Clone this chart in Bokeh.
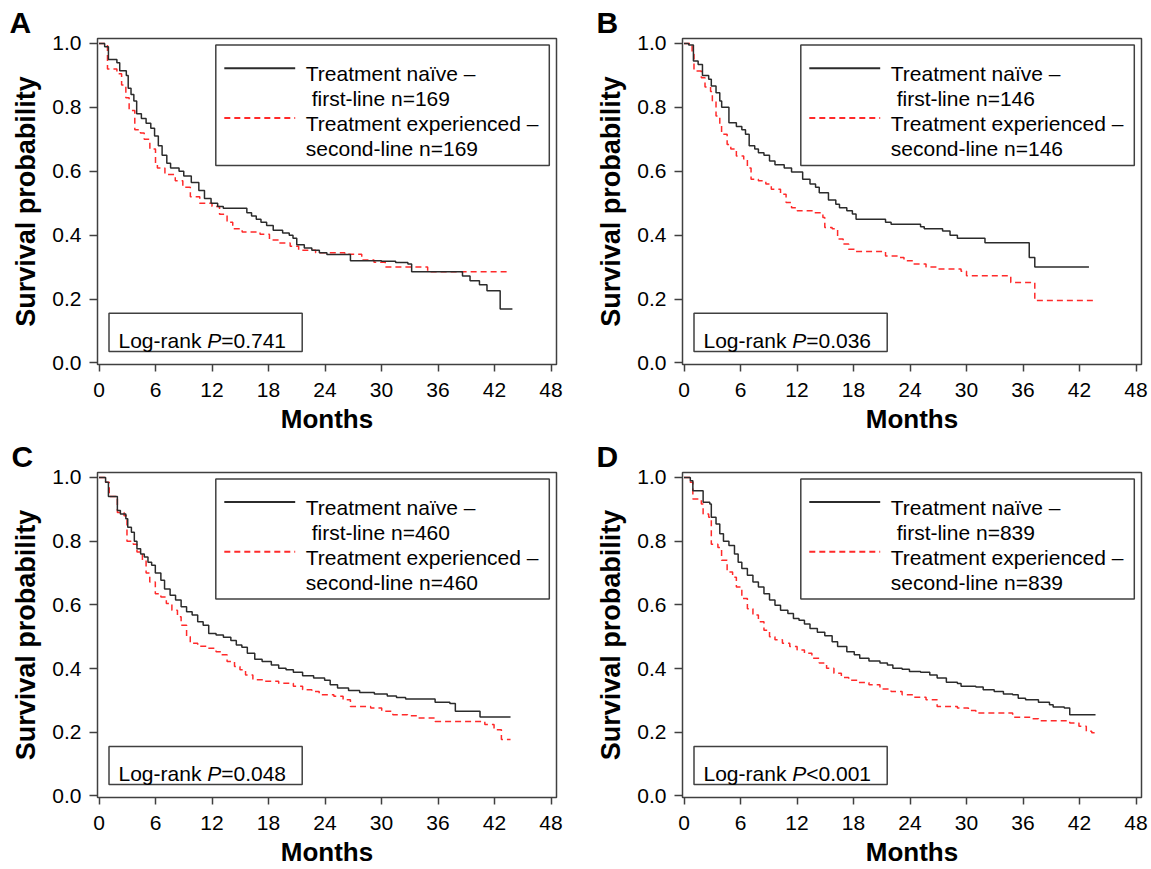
from bokeh.plotting import figure
from bokeh.layouts import gridplot
from bokeh.models import Label, FixedTicker, Range1d, NumeralTickFormatter
from bokeh.embed import file_html
from bokeh.resources import INLINE

# ---------------- data ----------------
x_ticks = [0, 6, 12, 18, 24, 30, 36, 42, 48]
y_ticks = [0.0, 0.2, 0.4, 0.6, 0.8, 1.0]
panel_letters = ["A", "B", "C", "D"]
n_patients = [169, 146, 460, 839]
p_texts = [("=", "0.741"), ("=", "0.036"), ("=", "0.048"), ("<", "0.001")]

# Panel A
a_naive_t = [0, 0.6, 1.0, 1.9, 2.2, 2.9, 3.1, 3.4, 3.7, 4.0, 4.5, 5.0, 5.5, 5.9, 6.3, 6.7, 7.2, 7.6, 8.5, 9.0,
             9.8, 10.6, 11.2, 11.9, 12.6, 13.2, 15.7, 16.2, 16.7, 17.2, 17.8, 18.5, 19.5, 20.2, 20.6, 21.0, 21.8,
             22.6, 23.4, 24.2, 26.7, 30.0, 31.5, 32.8, 33.2, 38.6, 39.4, 40.4, 41.2, 42.6]
a_naive_s = [1.0, 0.99, 0.95, 0.94, 0.915, 0.90, 0.86, 0.84, 0.82, 0.78, 0.765, 0.75, 0.735, 0.71, 0.68, 0.65,
             0.625, 0.61, 0.60, 0.585, 0.565, 0.54, 0.515, 0.50, 0.49, 0.484, 0.47, 0.46, 0.45, 0.44, 0.43, 0.415,
             0.407, 0.40, 0.39, 0.37, 0.36, 0.353, 0.345, 0.339, 0.32, 0.318, 0.314, 0.31, 0.285, 0.272, 0.257,
             0.245, 0.226, 0.169]
a_naive_end = 43.9
a_exp_t = [0, 0.9, 1.9, 2.4, 2.85, 3.2, 3.8, 4.4, 4.8, 5.4, 6.0, 6.2, 7.0, 8.1, 8.9, 9.7, 10.7, 12.0, 12.8, 13.6,
           14.2, 15.2, 17.1, 18.1, 19.1, 20.3, 21.2, 23.0, 26.1, 27.9, 29.2, 30.4, 34.9]
a_exp_s = [1.0, 0.92, 0.905, 0.87, 0.83, 0.79, 0.73, 0.72, 0.70, 0.67, 0.62, 0.61, 0.59, 0.57, 0.55, 0.52, 0.50,
           0.49, 0.465, 0.44, 0.42, 0.41, 0.403, 0.385, 0.375, 0.365, 0.353, 0.345, 0.34, 0.322, 0.315, 0.30, 0.285]
a_exp_end = 43.7

# Panel B
b_naive_t = [0, 0.5, 1.0, 1.5, 1.96, 2.62, 2.9, 3.4, 3.8, 4.0, 4.77, 5.56, 6.14, 6.53, 6.92, 7.51, 7.9, 8.49, 9.08,
             9.66, 10.64, 11.42, 12.6, 13.38, 13.97, 14.36, 15.34, 16.12, 16.51, 17.29, 17.88, 18.27, 21.4, 21.99,
             25.12, 25.51, 27.46, 28.25, 29.03, 31.96, 36.66, 37.25]
b_naive_s = [1.0, 0.995, 0.945, 0.934, 0.90, 0.888, 0.867, 0.846, 0.82, 0.80, 0.752, 0.74, 0.73, 0.716, 0.68, 0.67,
             0.658, 0.65, 0.632, 0.62, 0.61, 0.598, 0.575, 0.56, 0.55, 0.533, 0.51, 0.497, 0.486, 0.476, 0.466, 0.45,
             0.44, 0.434, 0.426, 0.42, 0.413, 0.40, 0.39, 0.376, 0.33, 0.30]
b_naive_end = 43.0
b_exp_t = [0, 0.86, 1.06, 1.84, 2.23, 2.82, 3.01, 3.4, 3.8, 3.99, 4.58, 4.97, 5.56, 6.34, 6.73, 7.12, 7.9, 8.69,
           9.27, 10.25, 10.84, 11.42, 12.01, 13.77, 14.75, 14.95, 15.73, 16.31, 16.9, 17.49, 18.08, 21.4, 22.77,
           23.36, 24.33, 25.7, 26.88, 29.42, 30.0, 34.7, 37.25]
b_exp_s = [1.0, 0.966, 0.914, 0.893, 0.864, 0.85, 0.82, 0.773, 0.747, 0.716, 0.684, 0.67, 0.648, 0.638, 0.61,
           0.575, 0.57, 0.56, 0.544, 0.528, 0.502, 0.486, 0.476, 0.47, 0.455, 0.424, 0.42, 0.388, 0.372, 0.356,
           0.349, 0.335, 0.33, 0.32, 0.31, 0.30, 0.294, 0.287, 0.273, 0.252, 0.195]
b_exp_end = 43.5

# Panel C
c_naive_t = [0, 0.7, 1.0, 1.95, 2.27, 2.85, 3.05, 3.44, 3.75, 4.03, 4.42, 4.81, 5.2, 5.59, 5.98, 6.57, 6.96, 7.55,
             8.13, 8.72, 9.3, 9.89, 10.48, 11.06, 11.65, 12.43, 13.21, 14.0, 14.58, 15.17, 15.75, 16.54, 17.32,
             18.3, 19.08, 19.86, 20.64, 21.62, 22.79, 23.96, 24.55, 25.33, 26.5, 27.68, 29.24, 30.61, 31.59, 32.56,
             35.69, 37.26, 37.84, 40.46]
c_naive_s = [1.0, 0.985, 0.94, 0.896, 0.885, 0.87, 0.844, 0.828, 0.80, 0.776, 0.76, 0.75, 0.734, 0.724, 0.70,
             0.677, 0.65, 0.63, 0.615, 0.594, 0.578, 0.568, 0.547, 0.536, 0.51, 0.505, 0.498, 0.488, 0.474, 0.467,
             0.448, 0.429, 0.422, 0.411, 0.401, 0.396, 0.388, 0.377, 0.37, 0.363, 0.349, 0.339, 0.331, 0.325, 0.32,
             0.314, 0.309, 0.304, 0.294, 0.29, 0.266, 0.248]
c_naive_end = 43.7
c_exp_t = [0, 0.7, 1.09, 1.95, 2.66, 2.97, 3.64, 4.03, 4.61, 5.0, 5.39, 5.98, 6.57, 7.15, 7.74, 8.33, 8.72, 9.3,
           9.69, 10.48, 11.45, 12.43, 13.02, 13.6, 14.39, 14.97, 15.56, 16.34, 17.51, 19.08, 20.64, 21.62, 22.6,
           23.38, 24.94, 25.92, 26.7, 28.85, 30.02, 31.2, 32.76, 33.93, 35.69, 40.97, 41.95, 42.73]
c_exp_s = [1.0, 0.985, 0.94, 0.89, 0.88, 0.80, 0.79, 0.766, 0.74, 0.70, 0.672, 0.635, 0.625, 0.604, 0.583, 0.563,
           0.536, 0.50, 0.479, 0.47, 0.464, 0.453, 0.443, 0.422, 0.406, 0.396, 0.38, 0.365, 0.36, 0.354, 0.344,
           0.333, 0.328, 0.318, 0.313, 0.302, 0.281, 0.276, 0.266, 0.255, 0.252, 0.245, 0.234, 0.224, 0.208, 0.177]
c_exp_end = 43.7

# Panel D
d_naive_t = [0, 0.67, 0.94, 2.03, 2.74, 2.9, 3.4, 3.8, 4.19, 4.77, 5.36, 5.75, 6.14, 6.73, 7.32, 7.9, 8.49, 9.08,
             9.66, 10.25, 11.03, 11.62, 12.21, 12.79, 13.38, 14.16, 14.95, 15.73, 16.31, 17.29, 18.08, 18.66,
             19.64, 20.81, 21.6, 22.18, 23.16, 23.94, 25.12, 26.1, 26.88, 27.86, 29.03, 29.42, 30.99, 31.77, 32.94,
             33.92, 34.9, 35.49, 36.27, 37.64, 38.81, 39.2, 40.38, 40.96]
d_naive_s = [1.0, 0.99, 0.958, 0.922, 0.917, 0.875, 0.854, 0.823, 0.80, 0.786, 0.76, 0.734, 0.714, 0.693, 0.672,
             0.656, 0.635, 0.615, 0.599, 0.583, 0.573, 0.557, 0.552, 0.54, 0.526, 0.514, 0.503, 0.484, 0.469,
             0.453, 0.443, 0.432, 0.424, 0.417, 0.411, 0.401, 0.398, 0.391, 0.388, 0.38, 0.37, 0.357, 0.353,
             0.344, 0.342, 0.333, 0.328, 0.32, 0.318, 0.307, 0.302, 0.294, 0.286, 0.279, 0.276, 0.255]
d_naive_end = 43.7
d_exp_t = [0, 0.67, 0.94, 1.84, 2.03, 2.62, 2.9, 3.6, 3.99, 4.58, 5.16, 5.56, 6.14, 6.73, 7.32, 7.9, 8.49, 9.08,
           9.66, 10.45, 11.23, 12.01, 12.79, 13.58, 14.36, 15.14, 15.92, 16.71, 17.49, 18.47, 19.64, 20.81, 21.99,
           23.16, 24.33, 25.7, 26.88, 29.03, 30.2, 30.99, 34.9, 36.85, 37.64, 40.96, 41.94, 42.72, 43.3]
d_exp_s = [1.0, 0.985, 0.932, 0.917, 0.885, 0.875, 0.79, 0.78, 0.74, 0.703, 0.687, 0.656, 0.62, 0.588, 0.568,
           0.547, 0.52, 0.50, 0.49, 0.479, 0.469, 0.458, 0.448, 0.432, 0.417, 0.401, 0.385, 0.372, 0.363, 0.356,
           0.349, 0.336, 0.328, 0.318, 0.31, 0.302, 0.281, 0.276, 0.268, 0.26, 0.247, 0.242, 0.236, 0.229, 0.219,
           0.203, 0.198]
d_exp_end = 43.7

# ---------------- layout / style ----------------
FONT = "Liberation Sans"
FRAME_COLOR = "#404040"
NAIVE_COLOR = "#2b2b2b"
EXP_COLOR = "#ff2a2a"
FW, FH = 459, 327            # frame size in px
X0, X1 = -0.16, -0.16 + FW / 9.417
Y0, Y1 = -0.005, -0.005 + FH / 320.4
SX = FW / (X1 - X0)
SY = FH / (Y1 - Y0)


def dx(px):
    return X0 + px / SX


def dy(py):
    return Y1 - py / SY


def make_panel(letter, n, ptxt, naive_t, naive_s, naive_end, exp_t, exp_s, exp_end,
               width, height, left, top, letter_offset):
    assert len(naive_t) == len(naive_s) and len(exp_t) == len(exp_s)
    p = figure(width=width, height=height, output_backend="svg", toolbar_location=None,
               x_range=Range1d(X0, X1), y_range=Range1d(Y0, Y1),
               min_border_left=left, min_border_right=width - left - FW,
               min_border_top=top, min_border_bottom=height - top - FH,
               title=letter, title_location="above")
    p.background_fill_color = "white"
    p.border_fill_color = "white"
    p.outline_line_color = FRAME_COLOR
    p.outline_line_width = 1.5
    p.xgrid.visible = False
    p.ygrid.visible = False

    # panel letter as title
    p.title.text_font = FONT
    p.title.text_font_style = "bold"
    p.title.text_font_size = "30px"
    p.title.text_color = "black"
    p.title.align = "left"
    p.title.offset = letter_offset
    p.title.standoff = 0

    for ax in (p.xaxis[0], p.yaxis[0]):
        ax.axis_line_color = None
        ax.minor_tick_line_color = None
        ax.major_tick_in = 0
        ax.major_tick_line_color = FRAME_COLOR
        ax.major_tick_line_width = 1.5
        ax.major_label_text_font = FONT
        ax.major_label_text_font_size = "21px"
        ax.major_label_text_color = "black"
        ax.axis_label_text_font = FONT
        ax.axis_label_text_font_style = "bold"
        ax.axis_label_text_color = "black"

    p.xaxis.ticker = FixedTicker(ticks=x_ticks)
    p.xaxis.axis_label = "Months"
    p.xaxis.axis_label_text_font_size = "26px"
    p.xaxis.major_tick_out = 7
    p.xaxis.major_label_standoff = 11
    p.xaxis.axis_label_standoff = 4

    p.yaxis.ticker = FixedTicker(ticks=y_ticks)
    p.yaxis.formatter = NumeralTickFormatter(format="0.0")
    p.yaxis.axis_label = "Survival probability"
    p.yaxis.axis_label_text_font_size = "27px"
    p.yaxis.major_tick_out = 8
    p.yaxis.major_label_standoff = 8
    p.yaxis.axis_label_standoff = 8
    p.yaxis.major_label_orientation = "horizontal"

    # survival curves
    p.step(x=exp_t + [exp_end], y=exp_s + [exp_s[-1]], mode="after",
           line_color=EXP_COLOR, line_width=1.5, line_dash="6 4")
    p.step(x=naive_t + [naive_end], y=naive_s + [naive_s[-1]], mode="after",
           line_color=NAIVE_COLOR, line_width=1.5)

    # legend box
    p.quad(left=[dx(118.3)], right=[dx(451.8)], top=[dy(6.6)], bottom=[dy(127.3)],
           fill_color="white", line_color=FRAME_COLOR, line_width=1.5)
    p.line([dx(126.8), dx(197.7)], [dy(29.8), dy(29.8)], line_color=NAIVE_COLOR, line_width=2)
    p.line([dx(126.8), dx(197.7)], [dy(79.8), dy(79.8)], line_color=EXP_COLOR, line_width=2,
           line_dash="6 4")
    fs = 21
    tx = 208.3
    legend_lines = [
        ("Treatment naïve –", tx, 35.3),
        (f"first-line n={n}", tx + 0.278 * fs, 60.3),
        ("Treatment experienced –", tx, 85.3),
        (f"second-line n={n}", tx, 110.3),
    ]
    for txt, lx, ly in legend_lines:
        p.add_layout(Label(x=dx(lx), y=dy(ly), text=txt, text_font=FONT,
                           text_font_size=f"{fs}px", text_color="black",
                           text_baseline="alphabetic", text_align="left"))

    # log-rank box
    p.quad(left=[dx(11.5)], right=[dx(204.7)], top=[dy(275.6)], bottom=[dy(314.0)],
           fill_color="white", line_color=FRAME_COLOR, line_width=1.5)
    lx = 21.0
    w_logrank = 4.224 * fs
    w_p = 0.667 * fs
    p.add_layout(Label(x=dx(lx), y=dy(303), text="Log-rank", text_font=FONT,
                       text_font_size=f"{fs}px", text_color="black", text_baseline="alphabetic"))
    p.add_layout(Label(x=dx(lx + w_logrank), y=dy(303), text="P", text_font=FONT,
                       text_font_style="italic",
                       text_font_size=f"{fs}px", text_color="black", text_baseline="alphabetic"))
    p.add_layout(Label(x=dx(lx + w_logrank + w_p), y=dy(303), text=ptxt[0] + ptxt[1], text_font=FONT,
                       text_font_size=f"{fs}px", text_color="black", text_baseline="alphabetic"))
    return p


W1, W2 = 590, 561
H1, H2 = 436, 433

pA = make_panel(panel_letters[0], n_patients[0], p_texts[0], a_naive_t, a_naive_s, a_naive_end,
                a_exp_t, a_exp_s, a_exp_end, W1, H1, 97, 38, -88)
pB = make_panel(panel_letters[1], n_patients[1], p_texts[1], b_naive_t, b_naive_s, b_naive_end,
                b_exp_t, b_exp_s, b_exp_end, W2, H1, 92, 38, -86)
pC = make_panel(panel_letters[2], n_patients[2], p_texts[2], c_naive_t, c_naive_s, c_naive_end,
                c_exp_t, c_exp_s, c_exp_end, W1, H2, 97, 36, -86)
pD = make_panel(panel_letters[3], n_patients[3], p_texts[3], d_naive_t, d_naive_s, d_naive_end,
                d_exp_t, d_exp_s, d_exp_end, W2, H2, 92, 36, -86)

grid = gridplot([[pA, pB], [pC, pD]], toolbar_location=None)
open("out.html", "w").write(file_html(grid, INLINE))
